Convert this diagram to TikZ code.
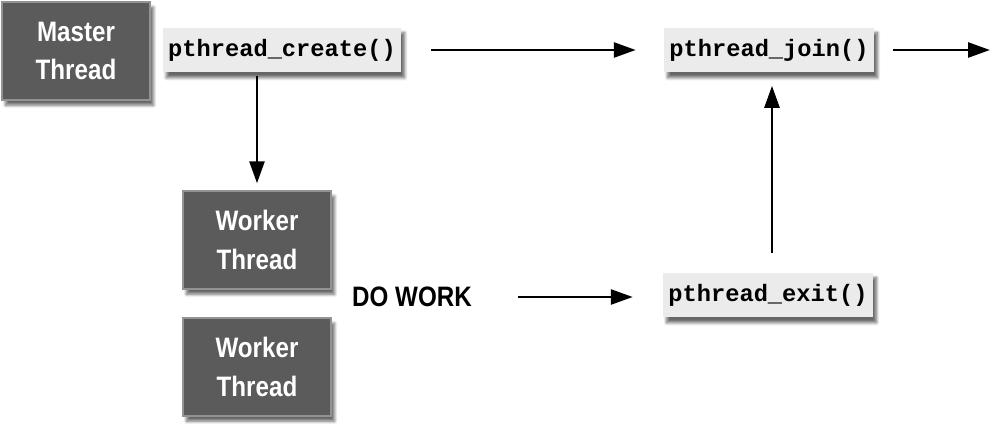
\documentclass[tikz,border=0pt]{standalone}
\usepackage{fontspec}
\newfontfamily\boxfont[FakeStretch=0.86]{Liberation Sans}
\newfontfamily\codefont{Liberation Mono}
\usetikzlibrary{arrows.meta,shadows,shadows.blur,positioning}
\definecolor{threadgray}{HTML}{5B5B5B}
\definecolor{callgray}{HTML}{EBEBEB}
\begin{document}
\begin{tikzpicture}[x=0.02cm, y=-0.02cm,
  thread/.style={fill=threadgray, draw=gray!85, line width=0.8pt, text=white, minimum width=2.96cm, minimum height=1.96cm, align=center, font=\boxfont\bfseries\fontsize{16}{22}\selectfont, blur shadow={shadow xshift=2pt, shadow yshift=-3pt, shadow blur steps=6, shadow opacity=60}},
  call/.style={fill=callgray, minimum height=0.9cm, inner xsep=3pt, font=\codefont\bfseries\fontsize{13.5}{16}\selectfont, blur shadow={shadow xshift=2pt, shadow yshift=-3pt, shadow blur steps=6, shadow opacity=60}},
  flow/.style={-{Triangle[length=0.44cm, width=0.3cm]}, line width=1.5pt}]

  \useasboundingbox (0,0) rectangle (995,432);

  % Threads
  \node[thread] (M) at (76,51) {Master\\Thread};
  \node[thread] (W1) at (257,240) {Worker\\Thread};
  \node[thread] (W2) at (257,367) {Worker\\Thread};

  % Calls
  \node[call] (C) at (282,50) {pthread\_create()};
  \node[call] (J) at (769,50) {pthread\_join()};
  \node[call] (E) at (768,295) {pthread\_exit()};

  % Work label
  \node[font=\boxfont\bfseries\fontsize{16}{18}\selectfont] (D) at (412,297) {DO WORK};
  \coordinate (End) at (990,50);

  % Horizontal arrows
  \draw[flow, shorten <=0.6cm, shorten >=0.56cm] (C.east) -- (J.west);
  \draw[flow, shorten <=0.38cm] (J.east) -- (End);
  \draw[flow, shorten <=0.8cm, shorten >=0.6cm] (D.east) -- (D.east -| E.west);

  % vertical arrows
  \draw[flow, shorten <=0.06cm, shorten >=0.14cm] (C.south -| W1.north) -- (W1.north);
  \draw[flow, shorten <=0.38cm, shorten >=0.26cm] (E.north -| 772,0) -- (J.south -| 772,0);

\end{tikzpicture}
\end{document}
